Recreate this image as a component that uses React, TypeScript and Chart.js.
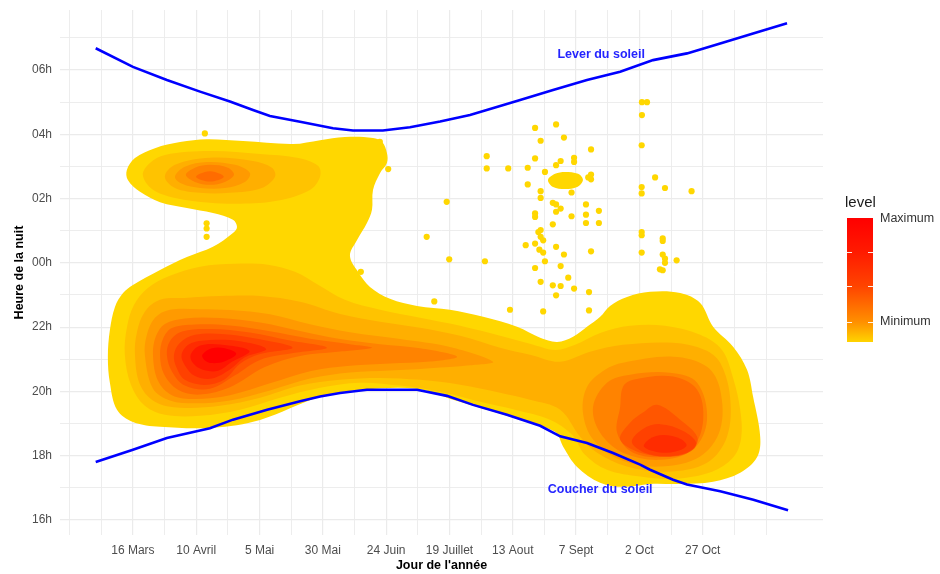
import React, { useEffect, useRef } from "react";
import { Chart, registerables } from "chart.js";
Chart.register(...registerables);

// ---------- axes ----------
const X_GRID = [50, 62.5, 75, 87.5, 100, 112.5, 125, 137.5, 150, 162.5, 175, 187.5, 200, 212.5, 225, 237.5, 250, 262.5, 275, 287.5, 300, 312.5, 325];
const X_LABEL_DAYS = [75, 100, 125, 150, 175, 200, 225, 250, 275, 300];
const X_LABEL_TEXT = ["16 Mars", "10 Avril", "5 Mai", "30 Mai", "24 Juin", "19 Juillet", "13 Aout", "7 Sept", "2 Oct", "27 Oct"];
const Y_GRID = [16, 17, 18, 19, 20, 21, 22, 23, 24, 25, 26, 27, 28, 29, 30, 31];
const Y_LABEL_HOURS = [16, 18, 20, 22, 24, 26, 28, 30];
const Y_LABEL_TEXT = ["16h", "18h", "20h", "22h", "00h", "02h", "04h", "06h"];

// ---------- sun lines ----------
const SUNRISE_DAY = [60.3, 75, 88.4, 101.5, 113.3, 122.4, 129.1, 141, 154, 161.9, 173.7, 184.4, 196.3, 208.1, 220, 227.9, 240.9, 254.3, 267.4, 280.4, 293.8, 306.9, 319.9, 333.3];
const SUNRISE_HOUR = [30.68, 30.1, 29.69, 29.33, 29.02, 28.76, 28.57, 28.39, 28.19, 28.12, 28.12, 28.22, 28.4, 28.6, 28.88, 29.07, 29.38, 29.69, 29.95, 30.31, 30.52, 30.83, 31.14, 31.46];
const SUNSET_DAY = [60.3, 75, 88.4, 105.4, 114.5, 128, 141, 148.9, 156.8, 167.4, 187.2, 199, 209.3, 222.7, 235.8, 243.7, 254.3, 264.6, 275.3, 279.2, 288.3, 293.8, 306.9, 320, 333.7];
const SUNSET_HOUR = [17.8, 18.18, 18.55, 18.85, 19.12, 19.43, 19.69, 19.84, 19.95, 20.05, 20.05, 19.86, 19.58, 19.27, 18.93, 18.6, 18.39, 18.08, 17.72, 17.56, 17.25, 17.1, 16.89, 16.63, 16.3];
const SUN_TEXT = ["Lever du soleil", "Coucher du soleil"];
const SUN_TEXT_DAY = [259.9, 259.5];
const SUN_TEXT_HOUR = [30.47, 16.94];

// ---------- isolated observations ----------
const POINT_DAY = [276, 278, 276, 233.8, 242.1, 236, 245.2, 255.9, 275.9, 214.7, 233.8, 249.2, 249.2, 243.9, 242.1, 214.7, 223.2, 230.9, 237.7, 255.9, 255.9, 254.8, 281.2, 230.9, 248.2, 285.1, 275.9, 275.9, 295.6, 236, 236, 240.8, 242.1, 243.9, 242.1, 253.9, 259, 233.8, 233.8, 253.9, 248.2, 240.8, 253.9, 259, 236, 235.1, 275.9, 275.9, 236, 237, 284.2, 284.2, 230.1, 233.8, 235.5, 237, 242.1, 245.2, 255.9, 275.9, 284.2, 285.1, 285.1, 289.7, 214, 237.7, 243.9, 233.8, 283.1, 284.2, 236, 246.9, 240.8, 243.9, 249.2, 242.1, 255.1, 223.9, 237, 255.1, 175.8, 198.9, 191, 199.9, 194, 165, 172.5, 103.4, 104.1, 104.1, 104.1];
const POINT_HOUR = [29, 29, 28.6, 28.2, 28.31, 27.8, 27.9, 27.53, 27.66, 27.32, 27.25, 27.27, 27.14, 27.17, 27.04, 26.94, 26.94, 26.96, 26.83, 26.75, 26.6, 26.66, 26.66, 26.44, 26.19, 26.33, 26.36, 26.16, 26.23, 26.23, 26.02, 25.87, 25.82, 25.69, 25.59, 25.82, 25.62, 25.54, 25.43, 25.5, 25.45, 25.2, 25.24, 25.24, 25.02, 24.96, 24.96, 24.86, 24.81, 24.7, 24.76, 24.68, 24.55, 24.6, 24.41, 24.32, 24.5, 24.26, 24.36, 24.32, 24.26, 24.13, 24, 24.08, 24.05, 24.05, 23.9, 23.84, 23.8, 23.77, 23.41, 23.54, 23.3, 23.28, 23.2, 22.99, 23.09, 22.54, 22.49, 22.52, 26.92, 25.9, 24.81, 24.11, 22.8, 23.72, 27.77, 28.03, 25.23, 25.07, 24.81];

// ---------- density contour polygons (day, hour) ----------
type P = [number, number][];
const L1_MAIN: P = [[65.1, 21.07], [65.9, 21.91], [67.9, 22.63], [71.1, 23.06], [75, 23.31], [85.7, 23.78], [96.3, 24.18], [106.6, 24.5], [114.5, 24.93], [116.1, 25.12], [114.5, 25.34], [106.6, 25.55], [96.3, 25.71], [85.7, 25.89], [77.8, 26.21], [73, 26.58], [72.6, 26.89], [75.8, 27.26], [83.7, 27.57], [93.6, 27.76], [104.2, 27.85], [118.5, 27.79], [138.2, 27.7], [148.9, 27.82], [158.7, 27.92], [169.8, 27.89], [173.4, 27.76], [175.3, 27.42], [175.3, 27.11], [172.6, 26.8], [169.8, 26.27], [169.4, 25.65], [167.4, 25.24], [163.5, 24.71], [160.7, 24.22], [163.9, 23.72], [168.6, 23.25], [176.5, 22.88], [187.2, 22.66], [200.2, 22.54], [213.3, 22.32], [226.7, 22.01], [235.8, 21.67], [242.5, 21.54], [248.8, 21.7], [254.3, 22.01], [259.5, 22.32], [263.4, 22.66], [270.1, 22.94], [279.2, 23.1], [291.1, 23.06], [299, 22.75], [304.1, 22.01], [312, 21.39], [317.5, 20.67], [319.9, 19.83], [322.7, 18.59], [321.5, 17.96], [314.8, 17.47], [304.1, 17.19], [291.1, 17.12], [279.2, 17.12], [268.6, 17.03], [259.5, 17.16], [250.4, 17.65], [244.9, 18.28], [241.7, 18.74], [227.9, 19.11], [214.8, 19.43], [201.4, 19.74], [187.2, 20.08], [165.9, 20.05], [148.9, 19.83], [125.2, 19.11], [106.6, 18.87], [85.7, 18.9], [75, 19.05], [68.7, 19.43], [65.9, 20.27]];
const L1_ISLAND: P = [[238.9, 26.58], [241.7, 26.77], [245.6, 26.83], [250.8, 26.77], [252.7, 26.58], [250.4, 26.36], [245.6, 26.3], [240.9, 26.36]];
const L2_LOW: P = [[71.8, 21.14], [72.6, 21.98], [75.4, 22.69], [80.9, 23.22], [89.6, 23.6], [101.5, 23.88], [115.3, 23.97], [128.3, 23.94], [139, 23.72], [148.1, 23.32], [158.7, 22.85], [172.6, 22.54], [188.4, 22.29], [204.2, 22.04], [220, 21.73], [231.8, 21.48], [241.7, 21.29], [249.6, 21.45], [259.5, 21.82], [271.3, 22.04], [285.1, 22.04], [299, 21.76], [307.6, 21.29], [312, 20.42], [314.8, 19.43], [315.2, 18.56], [312, 17.94], [303.7, 17.5], [289.1, 17.28], [275.3, 17.35], [262.2, 17.56], [253.5, 18.03], [248.4, 18.65], [239.7, 19.12], [225.9, 19.43], [212.1, 19.68], [196.3, 19.99], [180.5, 20.18], [164.7, 20.27], [148.9, 20.11], [133.1, 19.8], [117.3, 19.43], [101.5, 19.24], [87.6, 19.27], [79.7, 19.55], [74.2, 20.21]];
const L2_TOP: P = [[78.9, 26.74], [81.7, 27.11], [87.6, 27.36], [105.4, 27.48], [125.2, 27.39], [139.8, 27.27], [148.1, 27.02], [148.9, 26.68], [144.9, 26.27], [131.9, 25.93], [117.3, 25.84], [105.4, 25.87], [91.6, 26.02], [82.5, 26.3]];
const L3_LOW: P = [[75.8, 21.14], [76.6, 21.85], [79.7, 22.48], [85.7, 22.85], [95.5, 22.91], [109.4, 22.97], [125.2, 22.97], [141, 22.79], [156.8, 22.41], [172.6, 22.17], [188.4, 21.98], [204.2, 21.73], [220, 21.36], [231.8, 21.14], [243.7, 20.92], [255.5, 21.23], [268.5, 21.45], [288.3, 21.51], [300.9, 21.29], [306.9, 20.89], [310.8, 19.83], [309.6, 18.59], [301.7, 17.78], [285.9, 17.5], [270.1, 17.66], [258.3, 18.09], [251.6, 18.59], [243.7, 19.43], [231.8, 19.74], [220, 19.96], [204.2, 20.21], [188.4, 20.36], [172.6, 20.42], [156.8, 20.36], [141, 20.18], [125.2, 19.8], [109.4, 19.55], [93.6, 19.49], [83.7, 19.68], [77.8, 20.21]];
const L3_TOP: P = [[87.6, 26.68], [91.6, 27.05], [105.4, 27.27], [122.4, 27.17], [129.9, 26.96], [131.1, 26.68], [125.9, 26.33], [113.3, 26.18], [101.5, 26.18], [91.6, 26.33]];
const L4_LEFT: P = [[79.7, 21.14], [80.5, 21.76], [83.7, 22.29], [89.6, 22.54], [101.5, 22.56], [113.3, 22.53], [129.1, 22.4], [144.9, 22.09], [160.7, 21.84], [180.5, 21.63], [200.2, 21.38], [217.2, 20.92], [208.1, 20.81], [192.3, 20.72], [176.5, 20.65], [160.7, 20.59], [144.9, 20.4], [129.1, 20.03], [113.3, 19.72], [99.5, 19.63], [89.6, 19.72], [82.9, 20.09]];
const L4_RIGHT: P = [[252.7, 19.34], [254.3, 20.14], [261.4, 20.67], [268.5, 20.89], [288.3, 21.08], [301.7, 20.77], [306.9, 20.05], [306.9, 18.81], [299, 17.97], [283.2, 17.66], [267.4, 17.87], [256.7, 18.5]];
const L4_TOP: P = [[91.6, 26.68], [95.5, 26.99], [104.2, 27.14], [115.3, 27.05], [121.2, 26.8], [119.2, 26.52], [111.3, 26.33], [101.5, 26.33], [94.4, 26.46]];
const L5_LEFT: P = [[82.9, 21.14], [84.1, 21.72], [87.6, 22.1], [95.5, 22.27], [109.4, 22.28], [125.2, 22.14], [141, 21.88], [156.8, 21.63], [172.6, 21.47], [188.4, 21.34], [203, 21.08], [192.3, 20.93], [176.5, 20.87], [160.7, 20.8], [144.9, 20.63], [129.1, 20.25], [113.3, 19.88], [99.5, 19.76], [90.4, 19.88], [84.9, 20.33]];
const L5_RIGHT: P = [[256.7, 19.52], [262.2, 20.27], [271.3, 20.52], [287.1, 20.58], [297.8, 20.27], [301.7, 19.12], [296.2, 18.19], [283.2, 17.87], [268.5, 18.09], [259.5, 18.71]];
const L5_TOP: P = [[95.9, 26.74], [99.5, 26.96], [105.4, 27.05], [112.5, 26.96], [114.9, 26.74], [111.3, 26.52], [105.4, 26.43], [99.5, 26.52]];
const L6_LEFT: P = [[85.7, 21.14], [86.9, 21.64], [90.4, 21.97], [99.5, 22.08], [113.3, 22.05], [129.1, 21.87], [144.9, 21.64], [160.7, 21.47], [169.4, 21.36], [156.8, 21.24], [141, 21.1], [127.1, 20.76], [113.3, 20.13], [101.5, 19.9], [92.8, 20.05], [87.2, 20.55]];
const L6_RIGHT: P = [[272.5, 20.36], [288.3, 20.46], [297.8, 20.05], [300.2, 19.12], [296.2, 18.28], [285.9, 17.97], [272.5, 18.09], [266.2, 18.71], [267.4, 19.52], [268.5, 20.14]];
const L6_TOP: P = [[99.9, 26.68], [103.4, 26.83], [107.4, 26.83], [110.9, 26.68], [107.4, 26.55], [103.4, 26.55]];
const L7_LEFT: P = [[88.4, 21.14], [89.6, 21.56], [94.4, 21.86], [105.4, 21.94], [121.2, 21.83], [137, 21.58], [151.6, 21.36], [139, 21.2], [125.2, 20.98], [115.3, 20.5], [105.4, 20.08], [95.5, 20.18], [90.4, 20.62]];
const L7_RIGHT: P = [[282, 19.58], [291.1, 19.12], [297.8, 18.59], [296.2, 18.19], [288.3, 17.97], [275.3, 18.09], [267.4, 18.5], [271.3, 19.02], [276.4, 19.34]];
const L8_LEFT: P = [[91.2, 21.14], [93.4, 21.5], [99.5, 21.76], [111.3, 21.78], [125.2, 21.62], [138, 21.36], [125.2, 21.16], [117.3, 20.86], [111.3, 20.38], [103.4, 20.2], [95.5, 20.36], [92.2, 20.74]];
const L8_RIGHT: P = [[283.2, 18.98], [292.3, 18.77], [297.4, 18.4], [294, 18.1], [285.1, 17.98], [276.8, 18.1], [272, 18.43], [276.4, 18.83]];
const L9_LEFT: P = [[94.2, 21.14], [97.2, 21.47], [105.4, 21.6], [117.3, 21.56], [127.6, 21.32], [119.2, 21.06], [113.3, 20.68], [106.2, 20.4], [99.5, 20.48], [95.6, 20.8]];
const L9_RIGHT: P = [[284.4, 18.64], [291.3, 18.52], [293.6, 18.31], [289.3, 18.13], [283.2, 18.1], [276.8, 18.28], [279, 18.52]];
const L10_LEFT: P = [[97.8, 21.14], [101.3, 21.42], [109.4, 21.46], [121, 21.26], [114.1, 20.92], [108.6, 20.64], [102.3, 20.68], [98.7, 20.88]];
const L11_LEFT: P = [[102.4, 21.14], [106.2, 21.34], [111.3, 21.34], [115.8, 21.17], [111.3, 20.94], [106.2, 20.88], [103.2, 20.98]];

const LEVEL_COLORS = ["#FFD700", "#FFC300", "#FFAF00", "#FF9A00", "#FF8300", "#FF6C00", "#FF5600", "#FF4100", "#FF2C00", "#FF1600", "#FF0000"];
const CONTOURS: { level: number; pts: P }[] = [
  { level: 1, pts: L1_MAIN }, { level: 1, pts: L1_ISLAND },
  { level: 2, pts: L2_LOW }, { level: 2, pts: L2_TOP },
  { level: 3, pts: L3_LOW }, { level: 3, pts: L3_TOP },
  { level: 4, pts: L4_LEFT }, { level: 4, pts: L4_RIGHT }, { level: 4, pts: L4_TOP },
  { level: 5, pts: L5_LEFT }, { level: 5, pts: L5_RIGHT }, { level: 5, pts: L5_TOP },
  { level: 6, pts: L6_LEFT }, { level: 6, pts: L6_RIGHT }, { level: 6, pts: L6_TOP },
  { level: 7, pts: L7_LEFT }, { level: 7, pts: L7_RIGHT },
  { level: 8, pts: L8_LEFT }, { level: 8, pts: L8_RIGHT },
  { level: 9, pts: L9_LEFT }, { level: 9, pts: L9_RIGHT },
  { level: 10, pts: L10_LEFT },
  { level: 11, pts: L11_LEFT },
];

const LEGEND_TITLE = "level";
const LEGEND_LABELS = ["Maximum", "Minimum"];

const FONT = "'Liberation Sans', Arial, sans-serif";

// make contour lines closed loops so the spline is smooth all round
const loopPlugin = {
  id: "closedLoops",
  afterDatasetsUpdate(chart: any) {
    chart.data.datasets.forEach((ds: any, i: number) => {
      if (!ds.closedShape) return;
      const line = chart.getDatasetMeta(i).dataset;
      if (!line) return;
      line._loop = true;
      line._fullLoop = true;
      line._segments = undefined;
      line._path = undefined;
      line._pointsUpdated = false;
    });
  },
};

const annotationPlugin = {
  id: "sunText",
  afterDatasetsDraw(chart: any) {
    const { ctx, scales } = chart;
    ctx.save();
    ctx.font = `bold 12.5px ${FONT}`;
    ctx.fillStyle = "#2424FF";
    ctx.textAlign = "center";
    ctx.textBaseline = "middle";
    SUN_TEXT.forEach((t, i) => {
      ctx.fillText(t, scales.x.getPixelForValue(SUN_TEXT_DAY[i]), scales.y.getPixelForValue(SUN_TEXT_HOUR[i]));
    });
    ctx.restore();
  },
};

const legendPlugin = {
  id: "levelLegend",
  afterDraw(chart: any) {
    const { ctx } = chart;
    const x = 847, y = 218, w = 26, h = 124;
    ctx.save();
    ctx.font = `15px ${FONT}`;
    ctx.fillStyle = "#1A1A1A";
    ctx.textAlign = "left";
    ctx.textBaseline = "middle";
    ctx.fillText(LEGEND_TITLE, 845, 203);
    const g = ctx.createLinearGradient(0, y, 0, y + h);
    g.addColorStop(0, "#FF0000");
    g.addColorStop(0.27, "#FF1A00");
    g.addColorStop(0.55, "#FF4400");
    g.addColorStop(0.84, "#FF9000");
    g.addColorStop(1, "#FFD400");
    ctx.fillStyle = g;
    ctx.fillRect(x, y, w, h);
    ctx.strokeStyle = "rgba(255,255,255,0.9)";
    ctx.lineWidth = 1;
    [252, 286, 322].forEach((ty) => {
      ctx.beginPath();
      ctx.moveTo(x, ty + 0.5); ctx.lineTo(x + 5, ty + 0.5);
      ctx.moveTo(x + w - 5, ty + 0.5); ctx.lineTo(x + w, ty + 0.5);
      ctx.stroke();
    });
    ctx.font = `12.5px ${FONT}`;
    ctx.fillStyle = "#333333";
    ctx.fillText(LEGEND_LABELS[0], 880, 219);
    ctx.fillText(LEGEND_LABELS[1], 880, 322);
    ctx.restore();
  },
};

export default function App() {
  const ref = useRef<HTMLCanvasElement | null>(null);
  useEffect(() => {
    if (!ref.current) return;
    Chart.defaults.font.family = FONT;
    const datasets: any[] = [];
    CONTOURS.forEach((c) => {
      datasets.push({
        type: "line",
        closedShape: true,
        data: c.pts.map(([x, y]) => ({ x, y })),
        fill: "shape",
        backgroundColor: LEVEL_COLORS[c.level - 1],
        borderColor: LEVEL_COLORS[c.level - 1],
        borderWidth: 0,
        pointRadius: 0,
        tension: 0.35,
        order: 100 - c.level,
      });
    });
    datasets.push({
      type: "line",
      data: SUNRISE_DAY.map((d, i) => ({ x: d, y: SUNRISE_HOUR[i] })),
      borderColor: "#0000FF",
      borderWidth: 2.6,
      pointRadius: 0,
      fill: false,
      tension: 0,
      order: 2,
    });
    datasets.push({
      type: "line",
      data: SUNSET_DAY.map((d, i) => ({ x: d, y: SUNSET_HOUR[i] })),
      borderColor: "#0000FF",
      borderWidth: 2.6,
      pointRadius: 0,
      fill: false,
      tension: 0,
      order: 2,
    });
    datasets.push({
      type: "scatter",
      data: POINT_DAY.map((d, i) => ({ x: d, y: POINT_HOUR[i] })),
      backgroundColor: "#FFD700",
      borderWidth: 0,
      pointRadius: 3.1,
      order: 1,
    });

    const chart = new Chart(ref.current, {
      type: "line",
      data: { datasets },
      plugins: [loopPlugin, annotationPlugin, legendPlugin],
      options: {
        responsive: false,
        animation: false,
        events: [],
        layout: { padding: { left: 0, top: 10, right: 117, bottom: 0 } },
        plugins: { legend: { display: false }, tooltip: { enabled: false } },
        scales: {
          x: {
            type: "linear",
            min: 46.2,
            max: 347.5,
            afterBuildTicks: (s: any) => { s.ticks = X_GRID.map((v) => ({ value: v })); },
            afterFit: (s: any) => { s.height = 39; s.paddingLeft = 0; s.paddingRight = 0; },
            ticks: {
              autoSkip: false,
              maxRotation: 0,
              padding: 8,
              color: "#4D4D4D",
              font: { size: 12, family: FONT },
              callback: (v: any) => { const i = X_LABEL_DAYS.indexOf(Number(v)); return i >= 0 ? X_LABEL_TEXT[i] : ""; },
            },
            grid: { color: "#EBEBEB", lineWidth: (c: any) => (c.tick && X_LABEL_DAYS.includes(c.tick.value) ? 1.2 : 0.9), drawTicks: false },
            border: { display: false },
            title: { display: true, text: "Jour de l'année", color: "#000000", font: { size: 12.5, weight: "bold", family: FONT }, padding: { top: 0, bottom: 1 } },
          },
          y: {
            type: "linear",
            min: 15.53,
            max: 31.87,
            afterBuildTicks: (s: any) => { s.ticks = Y_GRID.map((v) => ({ value: v })); },
            afterFit: (s: any) => { s.width = 60; s.paddingTop = 0; s.paddingBottom = 0; },
            ticks: {
              autoSkip: false,
              padding: 8,
              color: "#4D4D4D",
              font: { size: 12, family: FONT },
              callback: (v: any) => { const i = Y_LABEL_HOURS.indexOf(Number(v)); return i >= 0 ? Y_LABEL_TEXT[i] : ""; },
            },
            grid: { color: "#EBEBEB", lineWidth: (c: any) => (c.tick && Y_LABEL_HOURS.includes(c.tick.value) ? 1.2 : 0.9), drawTicks: false },
            border: { display: false },
            title: { display: true, text: "Heure de la nuit", color: "#000000", font: { size: 12.5, weight: "bold", family: FONT }, padding: { top: 12, bottom: 0 } },
          },
        },
      } as any,
    });
    return () => chart.destroy();
  }, []);
  return (
    <div style={{ position: "absolute", left: 0, top: 0, width: 940, height: 574, background: "#FFFFFF" }}>
      <canvas ref={ref} width={940} height={574} />
    </div>
  );
}
